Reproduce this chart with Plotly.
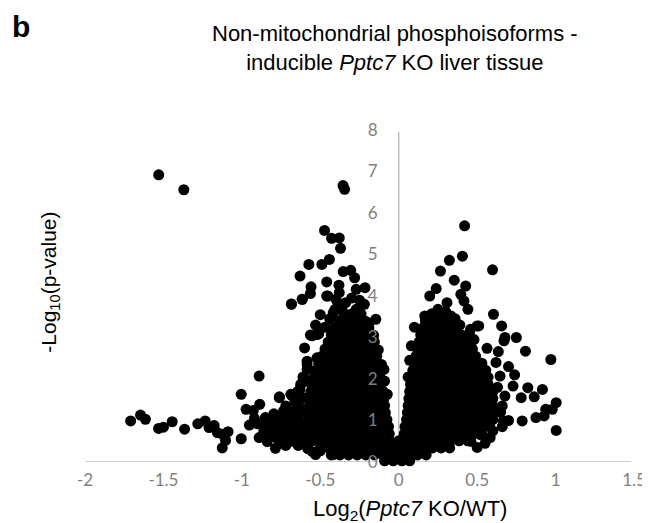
import plotly.graph_objects as go

# ---- values: log2(KO/WT) and -log10(p) ----
# isolated points, negative side
left_fc = [-1.53, -1.37, -0.355, -0.345,
           -0.473, -0.428, -0.379, -0.371, -0.442, -0.49, -0.573, -0.629, -0.354, -0.306,
           -0.281, -0.459, -0.381, -0.559, -0.563, -0.615, -0.684, -0.452, -0.379, -0.271,
           -0.215, -0.219, -0.338, -0.406, -0.271, -0.146, -0.552, -0.51, -0.584, -0.584,
           -0.625, -0.678, -0.761, -0.094, -0.073, -0.89,
           -1.709, -1.646, -1.615, -1.531, -1.50, -1.444, -1.365, -1.281, -1.234, -1.209,
           -1.177, -1.156, -1.125, -1.088, -1.104, -1.125, -1.004, -1.004, -0.973, -0.927,
           -0.886, -0.952, -0.90, -0.89, -0.838, -0.786, -0.85, -0.796, -0.761, -0.734,
           -0.688, -0.646, -0.636, -0.678, -0.678, -0.729, -0.771, -0.802, -0.615, -0.584,
           -0.563, -0.684, -0.615, -0.459, -0.521, -0.521, -0.469, -0.417, -0.50, -0.417,
           -0.82, -0.76, -0.72, -0.66, -0.62, -0.70, -0.65, -0.60, -0.75, -0.70, -0.64,
           -0.62, -0.66, -0.72, -0.32, -0.25, -0.19, -0.44, -0.36, -0.30, -0.25, -0.40,
           -0.60, -0.61, -0.59, -0.53, -0.50, -0.47, -0.16, -0.13, -0.11, -0.09,
           -0.87, -0.84, -0.80, -0.78, -0.74, -0.70, -0.68, -0.66, -0.64, -0.62,
           -0.60, -0.61, -0.63, -0.60, -0.72, -0.76, -0.82, -0.66, -0.58, -0.55,
           -0.53, -0.86, -0.92]
left_p = [6.92, 6.56, 6.66, 6.57,
          5.58, 5.39, 5.40, 5.15, 4.88, 4.76, 4.76, 4.48, 4.59, 4.62,
          4.44, 4.34, 4.26, 4.22, 4.06, 3.92, 3.80, 4.00, 4.08, 4.16,
          4.20, 3.80, 3.84, 3.68, 3.68, 3.44, 3.04, 3.09, 2.43, 2.23,
          1.87, 1.59, 1.57, 2.23, 1.63, 2.07,
          0.99, 1.13, 1.03, 0.81, 0.84, 0.97, 0.79, 0.92, 0.99, 0.83,
          0.88, 0.71, 0.67, 0.73, 0.52, 0.34, 0.56, 1.63, 1.27, 1.24,
          1.39, 0.89, 0.92, 0.59, 0.49, 0.33, 1.07, 1.16, 1.55, 1.23,
          1.63, 1.69, 1.35, 1.16, 0.50, 0.67, 0.83, 0.75, 1.91, 2.35,
          3.06, 3.81, 3.92, 4.00, 3.07, 2.51, 2.23, 3.60, 0.27, 0.18,
          0.95, 0.95, 0.90, 0.85, 0.70, 0.75, 0.55, 0.45, 0.45, 1.05, 1.05,
          1.20, 1.45, 1.35, 3.55, 3.52, 3.35, 3.45, 3.75, 3.95, 3.90, 3.92,
          2.75, 2.05, 1.20, 3.30, 3.55, 3.25, 3.05, 2.70, 2.35, 1.95,
          0.62, 0.88, 1.02, 0.58, 1.08, 0.58, 0.92, 1.25, 0.40, 0.95,
          0.60, 1.55, 1.75, 2.00, 0.40, 0.72, 0.62, 0.70, 0.32, 0.25,
          0.18, 0.75, 1.05]

# isolated points, positive side
right_fc = [0.42, 0.406, 0.323, 0.266, 0.598, 0.354, 0.427, 0.239, 0.198, 0.396,
            0.416, 0.308, 0.441, 0.604, 0.656, 0.10, 0.166, 0.25, 0.333, 0.51,
            0.458, 0.75, 0.677, 0.671, 0.808, 0.563, 0.635, 0.97, 0.739, 0.646,
            0.729, 0.823, 0.916, 0.864, 0.781, 0.677, 1.004, 0.979, 0.937, 0.927,
            0.875, 0.787, 0.667, 1.004, 0.583, 0.70, 0.62, 0.66, 0.63, 0.70,
            0.62, 0.65, 0.66, 0.60, 0.55, 0.50, 0.52, 0.46, 0.17, 0.21,
            0.27, 0.30, 0.36, 0.39, 0.50, 0.07, 0.06, 0.08, 0.45, 0.48]
right_p = [5.69, 4.96, 4.86, 4.60, 4.63, 4.38, 4.24, 4.18, 4.00, 4.04,
           3.88, 3.84, 3.68, 3.56, 3.28, 3.25, 3.52, 3.68, 3.52, 3.28,
           3.20, 3.00, 3.00, 2.92, 2.67, 2.74, 2.66, 2.47, 2.10, 2.07,
           1.83, 1.79, 1.75, 1.57, 1.55, 1.59, 1.43, 1.27, 1.27, 1.11,
           1.07, 0.99, 0.99, 0.76, 0.59, 1.00, 1.20, 1.35, 1.80, 2.30,
           2.40, 1.20, 0.85, 0.75, 0.45, 0.35, 0.66, 0.50, 3.40, 3.55,
           3.48, 3.62, 3.45, 3.30, 3.28, 2.45, 2.05, 2.80, 3.10, 2.95]

# dense cloud, one row of fold changes per -log10(p) level
cloud_p = [0.03, 0.17, 0.34, 0.51, 0.68, 0.85, 1.02, 1.19, 1.36, 1.53, 1.70,
           1.87, 2.04, 2.21, 2.38, 2.55, 2.72, 2.89, 3.06, 3.23, 3.40, 3.57]
cloud_fc = [
    [-0.09, -0.035, 0.02, 0.07],
    [-0.43, -0.375, -0.32, -0.265, -0.21, -0.155, -0.10, -0.045, 0.01, 0.065, 0.12, 0.175],
    [-0.50, -0.445, -0.39, -0.335, -0.28, -0.225, -0.17, -0.115, -0.06, -0.005, 0.05, 0.105,
     0.16, 0.215, 0.27, 0.325],
    [-0.55, -0.495, -0.44, -0.385, -0.33, -0.275, -0.22, -0.165, -0.11, -0.055, 0.0, 0.055,
     0.11, 0.165, 0.22, 0.275, 0.33, 0.385, 0.44],
    [-0.56, -0.505, -0.45, -0.395, -0.34, -0.285, -0.23, -0.175, -0.12, -0.06,
     0.035, 0.09, 0.145, 0.20, 0.255, 0.31, 0.365, 0.42, 0.475, 0.53],
    [-0.585, -0.53, -0.475, -0.42, -0.365, -0.31, -0.255, -0.20, -0.145, -0.09, -0.065,
     0.04, 0.095, 0.15, 0.205, 0.26, 0.315, 0.37, 0.425, 0.48, 0.535, 0.58],
    [-0.57, -0.515, -0.46, -0.405, -0.35, -0.295, -0.24, -0.185, -0.13, -0.075,
     0.05, 0.105, 0.16, 0.215, 0.27, 0.325, 0.38, 0.435, 0.49, 0.545, 0.60],
    [-0.585, -0.53, -0.475, -0.42, -0.365, -0.31, -0.255, -0.20, -0.145, -0.085,
     0.055, 0.11, 0.165, 0.22, 0.275, 0.33, 0.385, 0.44, 0.495, 0.55, 0.60],
    [-0.57, -0.515, -0.46, -0.405, -0.35, -0.295, -0.24, -0.185, -0.13, -0.09,
     0.06, 0.115, 0.17, 0.225, 0.28, 0.335, 0.39, 0.445, 0.50, 0.555, 0.60],
    [-0.575, -0.52, -0.465, -0.41, -0.355, -0.30, -0.245, -0.19, -0.135, -0.095,
     0.065, 0.12, 0.175, 0.23, 0.285, 0.34, 0.395, 0.45, 0.505, 0.56, 0.60],
    [-0.56, -0.505, -0.45, -0.395, -0.34, -0.285, -0.23, -0.175, -0.12, -0.10,
     0.07, 0.125, 0.18, 0.235, 0.29, 0.345, 0.40, 0.455, 0.51, 0.565, 0.60],
    [-0.555, -0.50, -0.445, -0.39, -0.335, -0.28, -0.225, -0.17, -0.115,
     0.075, 0.13, 0.185, 0.24, 0.295, 0.35, 0.405, 0.46, 0.515, 0.57],
    [-0.54, -0.485, -0.43, -0.375, -0.32, -0.265, -0.21, -0.155, -0.12,
     0.085, 0.14, 0.195, 0.25, 0.305, 0.36, 0.415, 0.47, 0.525, 0.57],
    [-0.53, -0.475, -0.42, -0.365, -0.31, -0.255, -0.20, -0.145, -0.125,
     0.09, 0.145, 0.20, 0.255, 0.31, 0.365, 0.42, 0.475, 0.53, 0.555],
    [-0.51, -0.455, -0.40, -0.345, -0.29, -0.235, -0.18, -0.135,
     0.10, 0.155, 0.21, 0.265, 0.32, 0.375, 0.43, 0.485, 0.53],
    [-0.49, -0.435, -0.38, -0.325, -0.27, -0.215, -0.16, -0.14,
     0.11, 0.165, 0.22, 0.275, 0.33, 0.385, 0.44, 0.49],
    [-0.47, -0.415, -0.36, -0.305, -0.25, -0.195, -0.15,
     0.12, 0.175, 0.23, 0.285, 0.34, 0.395, 0.45, 0.47],
    [-0.45, -0.395, -0.34, -0.285, -0.23, -0.175, -0.155,
     0.13, 0.185, 0.24, 0.295, 0.35, 0.405, 0.44],
    [-0.43, -0.375, -0.32, -0.265, -0.21, -0.165,
     0.14, 0.195, 0.25, 0.305, 0.36, 0.40],
    [-0.41, -0.355, -0.30, -0.245, -0.19,
     0.155, 0.21, 0.265, 0.32, 0.36],
    [-0.38, -0.325, -0.27, -0.215,
     0.18, 0.235, 0.29, 0.32],
    [-0.35, -0.295, -0.24,
     0.21, 0.26],
]

x_ticks = [-2, -1.5, -1, -0.5, 0, 0.5, 1, 1.5]
x_tick_text = ["-2", "-1.5", "-1", "-0.5", "0", "0.5", "1", "1.5"]
y_ticks = [0, 1, 2, 3, 4, 5, 6, 7, 8]
y_tick_text = ["0", "1", "2", "3", "4", "5", "6", "7", "8"]

# ---- assemble ----
xs, ys = [], []
for p, row in zip(cloud_p, cloud_fc):
    for fc in row:
        xs.append(fc)
        ys.append(p)
xs += left_fc + right_fc
ys += left_p + right_p

AXIS_GREY = "#bfbfbf"
TICK_GREY = "#7f7f7f"
TICK_FONT = dict(family="Lato, 'Open Sans', sans-serif", size=17, color=TICK_GREY)
TEXT_FONT = "'Liberation Sans', Arial, sans-serif"

# plot area in pixels (for placing titles)
L, T, W, H = 77, 122, 560, 332


def px(xpix):
    return (xpix - L) / W


def py(ypix):
    return (T + H - ypix) / H


fig = go.Figure()
fig.add_trace(go.Scatter(
    x=xs, y=ys, mode="markers",
    marker=dict(color="black", size=11, line=dict(width=0)),
    cliponaxis=False, hoverinfo="skip", showlegend=False,
))

fig.update_layout(
    width=650, height=523,
    margin=dict(l=L, r=650 - L - W, t=T, b=523 - T - H),
    paper_bgcolor="white", plot_bgcolor="white",
    xaxis=dict(range=[-2, 1.5], tickvals=x_ticks, ticktext=x_tick_text,
               showgrid=False, zeroline=False, showline=False,
               ticks="", tickfont=TICK_FONT, ticklabelstandoff=6, fixedrange=True),
    yaxis=dict(range=[0, 8], tickvals=y_ticks, ticktext=y_tick_text,
               anchor="free", position=2 / 3.5, side="left",
               showgrid=False, zeroline=False, showline=False,
               ticks="", tickfont=TICK_FONT, ticklabelstandoff=21, fixedrange=True),
    shapes=[
        dict(type="line", xref="x", yref="y", x0=-2, x1=1.48, y0=0, y1=0,
             line=dict(color=AXIS_GREY, width=1.5), layer="below"),
        dict(type="line", xref="x", yref="y", x0=0, x1=0, y0=0, y1=7.95,
             line=dict(color=AXIS_GREY, width=1.5), layer="below"),
    ],
    annotations=[
        dict(text="<b>b</b>", xref="paper", yref="paper", x=px(0), y=py(19),
             xanchor="left", yanchor="middle", showarrow=False,
             font=dict(family=TEXT_FONT, size=30, color="black")),
        dict(text="Non-mitochondrial phosphoisoforms -<br>inducible <i>Pptc7</i> KO liver tissue",
             xref="paper", yref="paper", x=px(393), y=py(40),
             xanchor="center", yanchor="middle", showarrow=False,
             font=dict(family=TEXT_FONT, size=22, color="black")),
        dict(text="Log<sub>2</sub>(<i>Pptc7</i> KO/WT)", xref="paper", yref="paper",
             x=px(409), y=py(502),
             xanchor="center", yanchor="middle", showarrow=False,
             font=dict(family=TEXT_FONT, size=22, color="black")),
        dict(text="-Log<sub>10</sub>(p-value)", xref="paper", yref="paper",
             x=px(41), y=py(274), textangle=-90,
             xanchor="center", yanchor="middle", showarrow=False,
             font=dict(family=TEXT_FONT, size=21, color="black")),
    ],
)

fig.write_html("out.html")
